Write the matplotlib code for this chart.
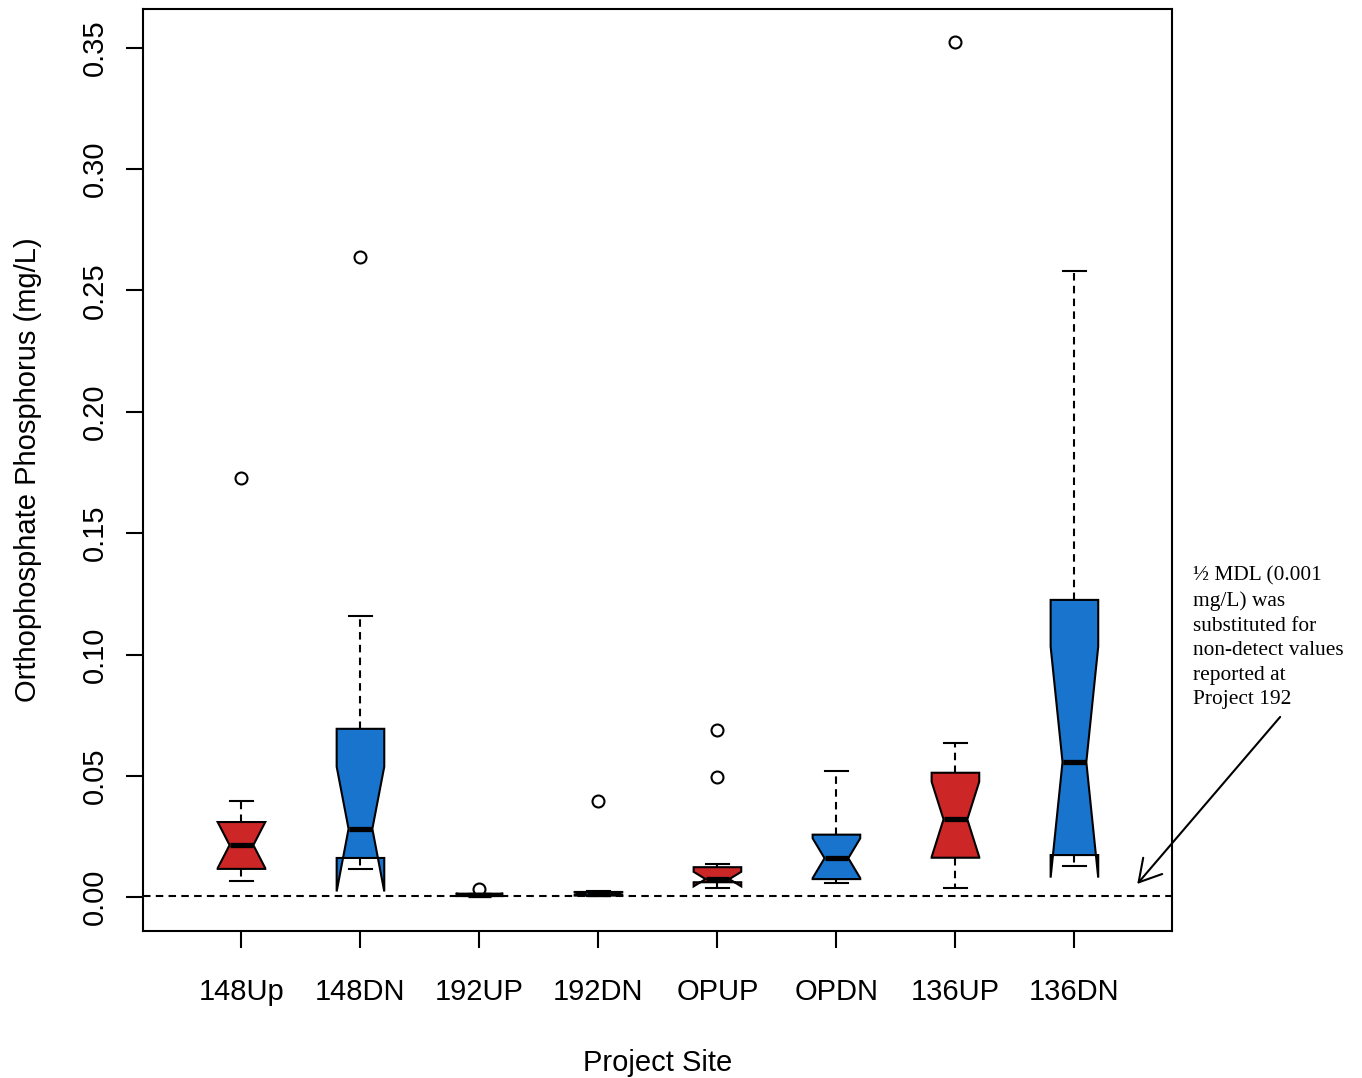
import matplotlib
matplotlib.use("Agg")
import matplotlib.pyplot as plt

plt.rcParams["lines.scale_dashes"] = False
plt.rcParams["font.family"] = ["Liberation Sans", "DejaVu Sans"]

# ---- data (mg/L) ----
sites = ["148Up", "148DN", "192UP", "192DN", "OPUP", "OPDN", "136UP", "136DN"]
q1 = [0.0117, 0.0162, 0.0005, 0.0007, 0.0062, 0.0075, 0.0163, 0.0174]
med = [0.0215, 0.0282, 0.0010, 0.0015, 0.0075, 0.0161, 0.0321, 0.0557]
q3 = [0.0310, 0.0694, 0.0015, 0.0022, 0.0124, 0.0258, 0.0513, 0.1225]
whis_lo = [0.0067, 0.0117, 0.0005, 0.0005, 0.0040, 0.0060, 0.0040, 0.0130]
whis_hi = [0.0397, 0.1159, 0.0015, 0.0025, 0.0138, 0.0520, 0.0635, 0.2580]
notch_lo = [0.0120, 0.0024, 0.0005, 0.0010, 0.0045, 0.0079, 0.0166, 0.0081]
notch_hi = [0.0310, 0.0538, 0.0015, 0.0020, 0.0105, 0.0243, 0.0476, 0.1033]
outliers = [[0.1728], [0.2638], [0.0035], [0.0397], [0.0689, 0.0497], [], [0.3522], []]
box_colors = ["#CD2626", "#1874CD", "#CD2626", "#1874CD",
              "#CD2626", "#1874CD", "#CD2626", "#1874CD"]
half_mdl = 0.0005
yticks = [0.00, 0.05, 0.10, 0.15, 0.20, 0.25, 0.30, 0.35]
note = "½ MDL (0.001\nmg/L) was\nsubstituted for\nnon-detect values\nreported at\nProject 192"

W, H = 1362, 1078
fig = plt.figure(figsize=(W / 100, H / 100), dpi=100)
ax_l, ax_r, ax_t, ax_b = 143.3, 1172.0, 9.0, 930.7
ax = fig.add_axes([ax_l / W, 1 - ax_b / H, (ax_r - ax_l) / W, (ax_b - ax_t) / H])

stats = []
for i in range(len(sites)):
    stats.append(dict(label=sites[i], q1=q1[i], med=med[i], q3=q3[i],
                      whislo=whis_lo[i], whishi=whis_hi[i],
                      cilo=notch_lo[i], cihi=notch_hi[i], fliers=outliers[i]))

dash = (0, (5.4, 3.8))
positions = list(range(1, len(sites) + 1))
res = ax.bxp(stats, positions=positions, widths=0.4, shownotches=True,
             patch_artist=True,
             boxprops=dict(linewidth=1.5, edgecolor="black"),
             medianprops=dict(color="black", linewidth=3.8, solid_capstyle="butt"),
             whiskerprops=dict(color="black", linewidth=1.5, linestyle=dash),
             capprops=dict(color="black", linewidth=1.5),
             flierprops=dict(marker="o", markerfacecolor="none",
                             markeredgecolor="black", markersize=8.6,
                             markeredgewidth=1.5, linestyle="none"))
for patch, c in zip(res["boxes"], box_colors):
    patch.set_facecolor(c)
    patch.set_joinstyle("miter")

ax.axhline(half_mdl, color="black", linewidth=1.5, linestyle=dash, zorder=3)

ax.set_xlim(0.175, 8.82)
ax.set_ylim(-0.01376, 0.3659)

ax.set_xticks(positions)
ax.set_xticklabels(sites)
ax.set_yticks(yticks)
ax.set_yticklabels([f"{v:.2f}" for v in yticks], rotation=90, va="center")
ax.tick_params(axis="both", direction="out", length=12, width=1.5,
               labelsize=21, color="black")
ax.tick_params(axis="x", pad=22)
ax.tick_params(axis="y", pad=13)
for s in ax.spines.values():
    s.set_linewidth(1.5)

ax.set_xlabel("Project Site", fontsize=21)
ax.set_ylabel("Orthophosphate Phosphorus (mg/L)", fontsize=21)
ax.xaxis.set_label_coords(0.5, (ax_b - 1063) / (ax_b - ax_t))
ax.xaxis.label.set_va("center")
ax.yaxis.set_label_coords((28.4 - ax_l) / (ax_r - ax_l), 0.5)
ax.yaxis.label.set_va("center")

ax.text(9.0, 0.1069, note, ha="left", va="center", fontsize=15.4,
        family=["Liberation Serif", "DejaVu Serif"], linespacing=1.40,
        clip_on=False)
ax.annotate("", xy=(8.528, 0.0055), xytext=(9.729, 0.0743),
            arrowprops=dict(arrowstyle="->,head_length=1.56,head_width=0.9",
                            mutation_scale=10, lw=1.5, color="black",
                            shrinkA=0, shrinkB=0),
            annotation_clip=False)

fig.savefig("out.png", dpi=100)
